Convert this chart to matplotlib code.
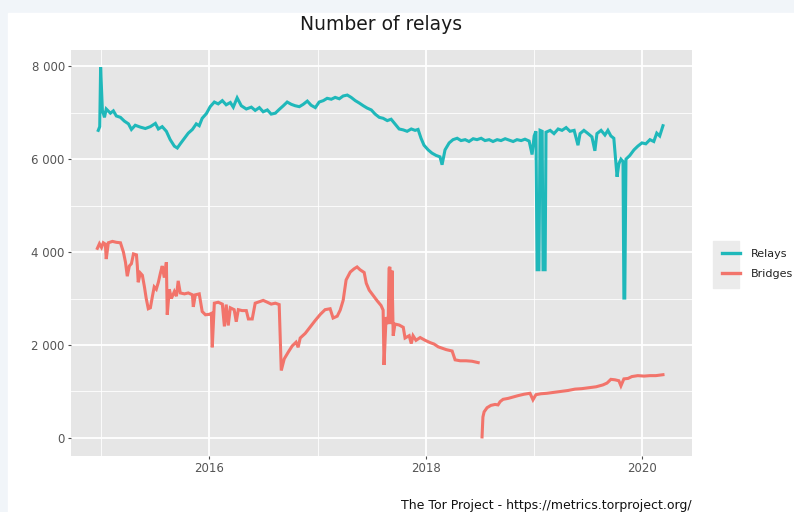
import numpy as np
import pandas as pd
import matplotlib
matplotlib.use("Agg")
import matplotlib.pyplot as plt
from matplotlib.patches import Rectangle
from matplotlib.lines import Line2D

# relays
relay_dates = [
    "2014-12-22", "2014-12-27", "2014-12-30", "2015-01-05", "2015-01-12", "2015-01-18",
    "2015-02-01", "2015-02-11", "2015-02-21", "2015-03-07", "2015-03-20", "2015-04-03",
    "2015-04-13", "2015-04-26", "2015-05-13", "2015-05-30", "2015-06-16", "2015-07-03",
    "2015-07-13", "2015-07-26", "2015-08-09", "2015-08-22", "2015-09-05", "2015-09-15",
    "2015-09-25", "2015-10-09", "2015-10-22", "2015-11-05", "2015-11-18", "2015-11-28",
    "2015-12-08", "2015-12-22", "2016-01-04", "2016-01-18", "2016-01-31", "2016-02-14",
    "2016-02-27", "2016-03-12", "2016-03-22", "2016-04-04", "2016-04-18", "2016-05-05",
    "2016-05-22", "2016-06-04", "2016-06-18", "2016-07-01", "2016-07-15", "2016-07-28",
    "2016-08-11", "2016-08-24", "2016-09-07", "2016-09-20", "2016-10-04", "2016-10-17",
    "2016-10-31", "2016-11-13", "2016-11-27", "2016-12-10", "2016-12-24", "2017-01-06",
    "2017-01-20", "2017-02-02", "2017-02-16", "2017-03-01", "2017-03-15", "2017-03-28",
    "2017-04-11", "2017-04-24", "2017-05-08", "2017-05-21", "2017-06-04", "2017-06-17",
    "2017-07-01", "2017-07-14", "2017-07-28", "2017-08-10", "2017-08-24", "2017-09-06",
    "2017-09-19", "2017-10-03", "2017-10-17", "2017-10-30", "2017-11-13", "2017-11-26",
    "2017-12-06", "2017-12-16", "2017-12-26", "2018-01-09", "2018-01-22", "2018-02-05",
    "2018-02-18", "2018-02-25", "2018-03-07", "2018-03-21", "2018-04-03", "2018-04-17",
    "2018-04-30", "2018-05-14", "2018-05-27", "2018-06-10", "2018-06-23", "2018-07-07",
    "2018-07-20", "2018-08-03", "2018-08-16", "2018-08-30", "2018-09-12", "2018-09-26",
    "2018-10-09", "2018-10-23", "2018-11-05", "2018-11-19", "2018-12-02", "2018-12-16",
    "2018-12-26", "2019-01-02", "2019-01-08", "2019-01-12", "2019-01-18", "2019-01-22",
    "2019-01-29", "2019-02-01", "2019-02-08", "2019-02-11", "2019-02-25", "2019-03-10",
    "2019-03-24", "2019-04-06", "2019-04-20", "2019-05-03", "2019-05-17", "2019-05-30",
    "2019-06-06", "2019-06-19", "2019-07-03", "2019-07-16", "2019-07-26", "2019-08-02",
    "2019-08-16", "2019-08-29", "2019-09-08", "2019-09-18", "2019-09-28", "2019-10-09",
    "2019-10-15", "2019-10-22", "2019-10-29", "2019-11-01", "2019-11-04", "2019-11-08",
    "2019-11-21", "2019-12-05", "2019-12-18", "2020-01-01", "2020-01-14", "2020-01-28",
    "2020-02-10", "2020-02-20", "2020-03-01", "2020-03-12",
]
relay_counts = [
    6620, 6700, 7980, 7050, 6900, 7080,
    6990, 7040, 6930, 6900, 6820, 6760,
    6640, 6730, 6690, 6660, 6700, 6770,
    6650, 6700, 6600, 6420, 6280, 6240,
    6330, 6450, 6560, 6640, 6760, 6720,
    6880, 6980, 7130, 7230, 7190, 7260,
    7170, 7220, 7120, 7320, 7150, 7080,
    7120, 7050, 7110, 7020, 7060, 6970,
    6990, 7070, 7150, 7230, 7180, 7150,
    7130, 7180, 7250, 7160, 7110, 7230,
    7260, 7310, 7290, 7330, 7300, 7360,
    7380, 7330, 7260, 7210, 7150, 7100,
    7060, 6970, 6900, 6880, 6830, 6860,
    6760, 6650, 6630, 6600, 6650, 6620,
    6640, 6450, 6300, 6200, 6130, 6080,
    6050, 5880, 6200, 6350, 6420, 6450,
    6400, 6420, 6380, 6440, 6420, 6450,
    6400, 6420, 6380, 6420, 6400, 6440,
    6410, 6380, 6420, 6400, 6430, 6390,
    6100, 6500, 6600, 3620, 3620, 6620,
    6600, 3620, 3620, 6580, 6620, 6550,
    6650, 6620, 6680, 6600, 6620, 6300,
    6550, 6620, 6550, 6480, 6180, 6550,
    6620, 6520, 6620, 6500, 6450, 5620,
    5900, 6000, 5950, 3010, 3010, 6000,
    6080, 6200, 6280, 6350, 6330, 6420,
    6380, 6560, 6500, 6720,
]

# bridges, with a gap in July 2018
bridge_dates = [
    "2014-12-19", "2014-12-26", "2015-01-02", "2015-01-08", "2015-01-15", "2015-01-18",
    "2015-01-25", "2015-02-08", "2015-02-21", "2015-03-07", "2015-03-17", "2015-03-24",
    "2015-03-30", "2015-04-06", "2015-04-13", "2015-04-20", "2015-04-30", "2015-05-03",
    "2015-05-06", "2015-05-13", "2015-05-20", "2015-05-27", "2015-06-02", "2015-06-09",
    "2015-06-16", "2015-06-23", "2015-06-29", "2015-07-06", "2015-07-13", "2015-07-20",
    "2015-07-26", "2015-08-02", "2015-08-09", "2015-08-12", "2015-08-19", "2015-08-26",
    "2015-09-05", "2015-09-12", "2015-09-18", "2015-09-25", "2015-10-09", "2015-10-22",
    "2015-11-05", "2015-11-08", "2015-11-15", "2015-11-28", "2015-12-08", "2015-12-19",
    "2016-01-01", "2016-01-08", "2016-01-11", "2016-01-18", "2016-01-31", "2016-02-14",
    "2016-02-21", "2016-02-27", "2016-03-05", "2016-03-12", "2016-03-25", "2016-04-01",
    "2016-04-08", "2016-04-21", "2016-05-05", "2016-05-12", "2016-05-25", "2016-06-04",
    "2016-06-18", "2016-07-01", "2016-07-15", "2016-07-28", "2016-08-11", "2016-08-24",
    "2016-08-31", "2016-09-10", "2016-09-24", "2016-10-07", "2016-10-20", "2016-10-27",
    "2016-11-03", "2016-11-20", "2016-12-07", "2016-12-24", "2017-01-10", "2017-01-26",
    "2017-02-12", "2017-02-22", "2017-03-08", "2017-03-18", "2017-03-28", "2017-04-07",
    "2017-04-21", "2017-05-04", "2017-05-14", "2017-05-24", "2017-06-07", "2017-06-14",
    "2017-06-24", "2017-07-07", "2017-07-21", "2017-08-03", "2017-08-10", "2017-08-13",
    "2017-08-20", "2017-08-27", "2017-08-30", "2017-09-02", "2017-09-06", "2017-09-09",
    "2017-09-13", "2017-09-19", "2017-10-03", "2017-10-17", "2017-10-23", "2017-11-06",
    "2017-11-13", "2017-11-19", "2017-11-29", "2017-12-13", "2017-12-30", "2018-01-16",
    "2018-01-29", "2018-02-12", "2018-02-25", "2018-03-11", "2018-03-31", "2018-04-10",
    "2018-04-27", "2018-05-17", "2018-06-06", "2018-06-27", "2018-07-04", "2018-07-10",
    "2018-07-13", "2018-07-17", "2018-07-27", "2018-08-09", "2018-08-23", "2018-09-02",
    "2018-09-09", "2018-09-19", "2018-10-06", "2018-10-23", "2018-11-09", "2018-11-29",
    "2018-12-19", "2018-12-29", "2019-01-08", "2019-01-25", "2019-02-14", "2019-03-10",
    "2019-04-03", "2019-04-26", "2019-05-20", "2019-06-12", "2019-07-06", "2019-07-30",
    "2019-08-22", "2019-09-05", "2019-09-18", "2019-10-02", "2019-10-15", "2019-10-22",
    "2019-11-01", "2019-11-15", "2019-11-28", "2019-12-18", "2020-01-08", "2020-01-28",
    "2020-02-17", "2020-03-12",
]
bridge_counts = [
    4080, 4180, 4100, 4200, 4170, 3850,
    4200, 4230, 4210, 4200, 4000, 3780,
    3480, 3700, 3750, 3960, 3940, 3700,
    3350, 3550, 3500, 3250, 3000, 2780,
    2800, 3050, 3250, 3200, 3350, 3550,
    3700, 3450, 3780, 2650, 3200, 3000,
    3150, 3050, 3380, 3120, 3100, 3120,
    3080, 2820, 3080, 3100, 2720, 2650,
    2660, 2680, 1950, 2900, 2920, 2880,
    2400, 2870, 2420, 2800, 2760, 2500,
    2760, 2740, 2740, 2560, 2560, 2900,
    2930, 2960, 2920, 2880, 2900, 2870,
    1450, 1700, 1850, 1980, 2060, 1950,
    2150, 2250, 2390, 2530, 2660, 2760,
    2780, 2580, 2620, 2750, 2960, 3400,
    3570, 3640, 3680, 3620, 3560, 3330,
    3180, 3070, 2950, 2850, 2750, 1570,
    2600, 2450, 3650, 3680, 2450, 3600,
    2200, 2450, 2430, 2380, 2150, 2200,
    2030, 2200, 2100, 2160, 2100, 2050,
    2020, 1960, 1930, 1900, 1870, 1680,
    1660, 1660, 1650, 1620, np.nan, 20,
    450, 560, 650, 700, 720, 710,
    780, 830, 850, 880, 910, 940,
    960, 820, 930, 950, 960, 980,
    1000, 1020, 1050, 1060, 1080, 1100,
    1140, 1180, 1260, 1250, 1230, 1120,
    1270, 1280, 1320, 1340, 1330, 1340,
    1340, 1360,
]

y_ticks = [0, 2000, 4000, 6000, 8000]
y_labels = ["0", "2 000", "4 000", "6 000", "8 000"]
x_ticks = ["2016-01-01", "2018-01-01", "2020-01-01"]
x_labels = ["2016", "2018", "2020"]
x_minor = ["2015-01-01", "2017-01-01", "2019-01-01"]

RELAY_COLOR = "#1fb8ba"
BRIDGE_COLOR = "#f2746b"


def draw_chart():
    fig = plt.figure(figsize=(7.94, 5.12), dpi=100)
    fig.patch.set_facecolor("#f1f5f9")
    # white card the chart sits on
    fig.add_artist(Rectangle((8 / 794, 0), 1, 1 - 13 / 512,
                             transform=fig.transFigure, color="white", zorder=0))

    ax = fig.add_axes([71 / 794, 1 - 456 / 512, 621 / 794, 406 / 512])
    ax.set_facecolor("#e6e6e6")
    for s in ax.spines.values():
        s.set_visible(False)

    ax.plot(pd.to_datetime(relay_dates), relay_counts, color=RELAY_COLOR,
            lw=2.2, solid_joinstyle="miter", zorder=3)
    ax.plot(pd.to_datetime(bridge_dates), bridge_counts, color=BRIDGE_COLOR,
            lw=2.2, solid_joinstyle="miter", zorder=3)

    ax.set_xlim(pd.Timestamp("2014-09-21"), pd.Timestamp("2020-06-18"))
    ax.set_ylim(-390, 8350)

    ax.set_xticks(pd.to_datetime(x_ticks))
    ax.set_xticklabels(x_labels)
    ax.set_xticks(pd.to_datetime(x_minor), minor=True)
    ax.set_yticks(y_ticks)
    ax.set_yticklabels(y_labels)
    ax.set_yticks([1000, 3000, 5000, 7000], minor=True)

    ax.grid(which="major", color="white", lw=1.3, zorder=1)
    ax.grid(which="minor", color="white", lw=0.6, zorder=1)
    ax.set_axisbelow(True)
    ax.tick_params(which="major", length=2.5, width=0.8, color="#4d4d4d",
                   labelcolor="#555555", labelsize=8.5, pad=2)
    ax.tick_params(which="minor", length=0)

    fig.text(381 / 794, 1 - 24 / 512, "Number of relays", ha="center",
             va="center", fontsize=13.5, color="#1a1a1a")

    # legend: grey key box with two line keys
    fig.add_artist(Rectangle((713 / 794, 1 - 288 / 512), 26 / 794, 47 / 512,
                             transform=fig.transFigure, color="#ebebeb", zorder=1))
    handles = [Line2D([], [], color=RELAY_COLOR, lw=2.4),
               Line2D([], [], color=BRIDGE_COLOR, lw=2.4)]
    fig.legend(handles, ["Relays", "Bridges"], loc="center left",
               bbox_to_anchor=(712 / 794, 1 - 264 / 512), frameon=False,
               fontsize=8, handlelength=1.6, handletextpad=1.0,
               labelspacing=0.95, labelcolor="#222222", borderpad=0.4)

    fig.text(692 / 794, 1 - 506 / 512,
             "The Tor Project - https://metrics.torproject.org/",
             ha="right", va="center", fontsize=9, color="#111111")

    fig.savefig("out.png", dpi=100, facecolor=fig.get_facecolor())


if __name__ == "__main__":
    draw_chart()
